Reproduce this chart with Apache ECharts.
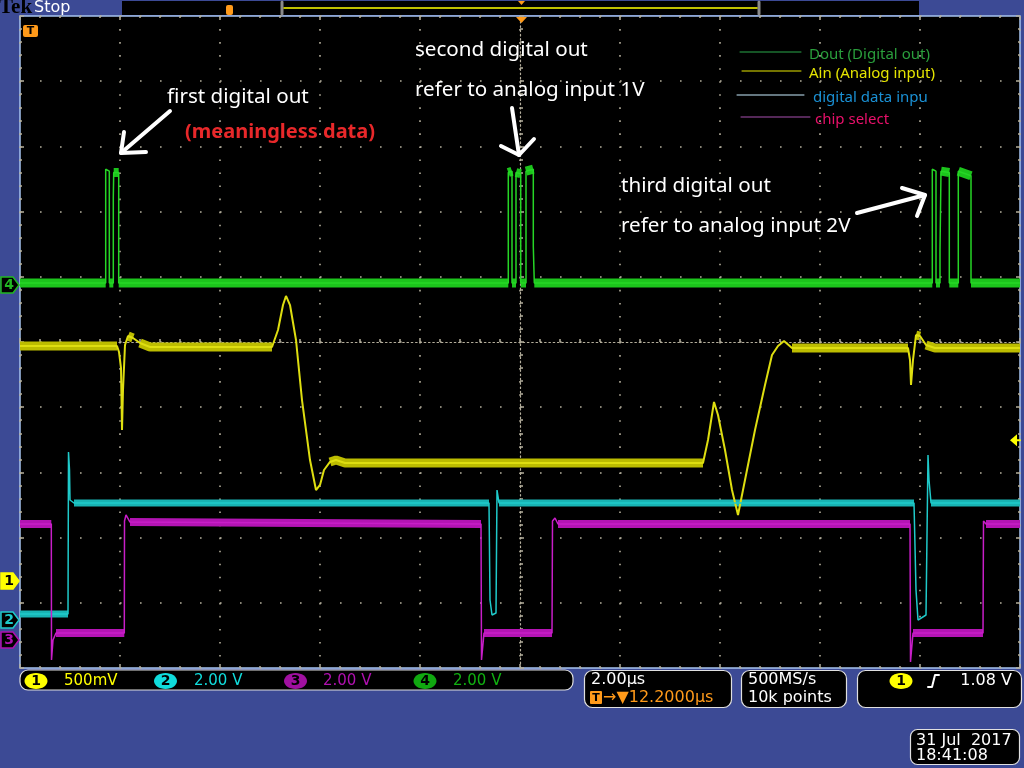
<!DOCTYPE html>
<html><head><meta charset="utf-8">
<script src="https://cdn.jsdelivr.net/npm/echarts@6/dist/echarts.min.js"></script>
<style>html,body{margin:0;padding:0;background:#3c4a95;}#c{width:1024px;height:768px;}</style>
</head><body><div id="c"></div>
<script>
// ---- axes: time in µs relative to screen centre (2.00 µs/div), vertical in screen divisions
const timeTicks = { min: -10, max: 10, interval: 2 };
const divTicks = { min: -5, max: 5, interval: 1 };

// ---- traces [time µs, divisions]
const doutCh4 = [[-10,0.905],[-8.286,0.905],[-8.286,2.65],[-8.214,2.62],[-8.214,0.905],[-8.134,0.905],[-8.134,2.22],[-8.126,2.60],[-8.026,2.60],[-8.026,0.905],
  [-0.234,0.905],[-0.234,2.60],[-0.16,2.62],[-0.16,0.905],[-0.08,0.905],[-0.08,2.60],[0.014,2.58],[0.014,0.905],[0.12,0.905],[0.12,2.62],[0.266,2.65],[0.266,1.47],[0.286,1.47],[0.286,0.905],
  [8.246,0.905],[8.246,2.65],[8.32,2.62],[8.32,0.905],[8.40,0.905],[8.40,1.41],[8.42,1.41],[8.42,2.62],[8.586,2.60],[8.586,0.905],[8.766,0.905],[8.766,2.62],[9.02,2.55],[9.02,0.905],[10,0.905]];
const ainCh1 = [[-10,-0.061],[-8.06,-0.061],[-8.02,-0.153],[-7.98,-0.399],[-7.96,-1.350],[-7.94,-0.736],[-7.90,-0.046],[-7.84,0.092],[-7.74,0.061],[-7.60,-0.015],[-7.40,-0.077],
  [-4.96,-0.077],[-4.84,0.184],[-4.74,0.567],[-4.68,0.706],[-4.60,0.567],[-4.48,0.031],[-4.36,-0.890],[-4.20,-1.810],[-4.08,-2.270],[-4.00,-2.193],[-3.92,-1.963],[-3.80,-1.840],[-3.68,-1.810],[-3.50,-1.856],
  [3.66,-1.856],[3.76,-1.503],[3.88,-0.920],[3.96,-1.120],[4.10,-1.656],[4.24,-2.270],[4.36,-2.653],[4.50,-2.117],[4.70,-1.350],[4.90,-0.660],[5.04,-0.199],[5.16,-0.061],[5.28,0.015],[5.44,-0.092],
  [7.76,-0.092],[7.80,-0.276],[7.82,-0.660],[7.86,-0.276],[7.92,0.107],[8.00,0.092],[8.12,-0.046],[8.30,-0.092],[10,-0.092]];
const dataInCh2 = [[-10,-4.172],[-9.04,-4.172],[-9.03,-1.687],[-9.01,-1.963],[-9.0,-2.423],[-8.96,-2.393],[-8.92,-2.469],
  [-0.62,-2.469],[-0.60,-3.957],[-0.56,-4.187],[-0.48,-4.156],[-0.46,-2.270],[-0.42,-2.469],
  [7.88,-2.469],[7.92,-3.804],[7.96,-4.264],[8.12,-4.187],[8.16,-1.733],[8.18,-2.117],[8.22,-2.469],[10,-2.469]];
const chipSelCh3 = [[-10,-2.791],[-9.374,-2.791],[-9.37,-4.877],[-9.34,-4.571],[-9.28,-4.463],[-7.914,-4.463],[-7.91,-2.745],[-7.88,-2.653],[-7.80,-2.761],
  [-0.78,-2.791],[-0.77,-4.877],[-0.72,-4.463],[0.64,-4.463],[0.65,-2.745],[0.70,-2.699],[0.76,-2.791],
  [7.80,-2.791],[7.81,-4.908],[7.86,-4.463],[9.26,-4.463],[9.27,-2.745],[9.32,-2.791],[10,-2.791]];

// ---- channel ground markers (divisions) and readouts
const chanIds = ['1', '2', '3', '4'];
const chanGround = [-3.666, -4.264, -4.571, 0.874];
const chanScale = ['500mV', '2.00 V', '2.00 V', '2.00 V'];
const chanVoltsPerDiv = [0.5, 2, 2, 2];
const trigLevelV = 1.08;
const timebase = '2.00µs';
const trigDelay = '12.2000µs';
const sampleRate = '500MS/s';
const recordLen = '10k points';
const dateStr = '31 Jul  2017';
const timeStr = '18:41:08';
const legendNames = ['Dout (Digital out)', 'Ain (Analog input)', 'digital data inpu', 'chip select'];

const COL = { ch1: '#dede10', ch2: '#1fcaca', ch3: '#c81ec8', ch4: '#26d626', dot: '#b4ae9c', frame: '#a6c4ef', orange: '#ff9a1a' };

function band(data) {
  const out = []; let last = -1;
  for (let i = 0; i < data.length - 1; i++) {
    const a = data[i], b = data[i + 1];
    const dt = b[0] - a[0], dd = Math.abs(b[1] - a[1]);
    if (dt > 0.04 && dd / dt < 0.35) {
      if (last !== i) { if (out.length) out.push([a[0], '-']); out.push(a); }
      out.push(b); last = i + 1;
    }
  }
  return out;
}
function trace(name, data, color, bandColor, w, bw) {
  return [
    { name: name + ' noise', type: 'line', data: band(data), showSymbol: false, silent: true, animation: false, connectNulls: false,
      lineStyle: { color: bandColor, width: bw, cap: 'butt' }, z: 2 },
    { name: name, type: 'line', data: data, showSymbol: false, silent: true, animation: false,
      lineStyle: { color: color, width: w }, z: 3 }
  ];
}

const axisCommon = { type: 'value', axisLabel: { show: false }, splitLine: { show: false } };
const edgeTick = { show: true, inside: true, length: 4, lineStyle: { color: COL.dot, width: 1.5 } };
const edgeMinor = { show: true, splitNumber: 5, length: 2, lineStyle: { color: COL.dot, width: 1.5 } };
const chart = echarts.init(document.getElementById('c'), null, { width: 1024, height: 768 });

const grid = { left: 20, top: 16, width: 1000, height: 652 };
chart.setOption({
  backgroundColor: '#3c4a95',
  animation: false,
  grid: Object.assign({ show: true, backgroundColor: '#000', borderColor: COL.frame, borderWidth: 1.5 }, grid),
  xAxis: [
    Object.assign({}, axisCommon, timeTicks, {
      axisLine: { show: true, onZero: true, lineStyle: { color: COL.dot, type: [1.5, 2.8], width: 1.2 } },
      axisTick: { show: true, inside: true, length: 4, lineStyle: { color: COL.dot, width: 1.5 } },
      minorTick: { show: true, splitNumber: 5, length: 3, lineStyle: { color: COL.dot, width: 1.5 } },
      splitLine: { show: true, lineStyle: { color: COL.dot, type: [1.6, 11.44], width: 1.6 } }
    }),
    Object.assign({}, axisCommon, timeTicks, { position: 'top', axisLine: { show: false, onZero: false }, axisTick: edgeTick, minorTick: edgeMinor }),
    Object.assign({}, axisCommon, timeTicks, { position: 'bottom', axisLine: { show: false, onZero: false }, axisTick: edgeTick, minorTick: edgeMinor })
  ],
  yAxis: [
    Object.assign({}, axisCommon, divTicks, {
      axisLine: { show: true, onZero: true, lineStyle: { color: COL.dot, type: [1.5, 2.8], width: 1.2 } },
      axisTick: { show: true, inside: true, length: 4, lineStyle: { color: COL.dot, width: 1.5 } },
      minorTick: { show: true, splitNumber: 5, length: 3, lineStyle: { color: COL.dot, width: 1.5 } },
      splitLine: { show: true, lineStyle: { color: COL.dot, type: [1.6, 18.4], width: 1.6 } }
    }),
    Object.assign({}, axisCommon, divTicks, { position: 'left', axisLine: { show: false, onZero: false }, axisTick: edgeTick, minorTick: edgeMinor }),
    Object.assign({}, axisCommon, divTicks, { position: 'right', axisLine: { show: false, onZero: false }, axisTick: edgeTick, minorTick: edgeMinor })
  ],
  series: [].concat(
    trace(legendNames[1], ainCh1, COL.ch1, '#bcbc00', 2, 9),
    trace(legendNames[2], dataInCh2, COL.ch2, '#18b4b4', 1.5, 7),
    trace(legendNames[3], chipSelCh3, COL.ch3, '#b414b4', 1.5, 8),
    trace(legendNames[0], doutCh4, COL.ch4, '#1cc41c', 1.5, 9)
  )
});

// ---- overlay graphics
const yPx = v => chart.convertToPixel({ yAxisIndex: 0 }, v);
const g = [];
const txt = (x, y, s, fill, font, align) => g.push({ type: 'text', x: x, y: y, silent: true, z: 50,
  style: { text: s, fill: fill, font: font, align: align || 'left', verticalAlign: 'middle' } });
const rect = (x, y, w, h, fill, stroke, r) => g.push({ type: 'rect', silent: true, z: 40,
  shape: { x: x, y: y, width: w, height: h, r: r || 0 }, style: { fill: fill, stroke: stroke || null, lineWidth: 1.2 } });
const poly = (pts, fill, stroke, lw) => g.push({ type: 'polygon', silent: true, z: 45, shape: { points: pts }, style: { fill: fill, stroke: stroke || null, lineWidth: lw || 1 } });
const pline = (pts, stroke, lw) => g.push({ type: 'polyline', silent: true, z: 45, shape: { points: pts }, style: { stroke: stroke, lineWidth: lw, fill: null, lineCap: 'round', lineJoin: 'round' } });
const ell = (cx, cy, rx, ry, fill, stroke) => g.push({ type: 'ellipse', silent: true, z: 45, shape: { cx: cx, cy: cy, rx: rx, ry: ry }, style: { fill: fill, stroke: stroke || null, lineWidth: 1 } });

// top bar
txt(-1, 8, 'Tek', '#000', 'bold 21px "Liberation Serif"');
txt(34, 8, 'Stop', '#fff', '16px "DejaVu Sans"');
rect(122, 1, 797, 14, '#000');
rect(226, 5, 7, 10, COL.orange, null, 2);
pline([[282, 2], [282, 14]], '#8a8a8a', 3);
pline([[759, 2], [759, 14]], '#8a8a8a', 3);
pline([[284, 8], [757, 8]], '#ffff00', 1.5);
poly([[518, 1], [525, 1], [521.5, 5]], COL.orange);
poly([[516, 17], [527, 17], [521.5, 23]], COL.orange);
rect(23, 25, 15, 12, COL.orange, null, 2);
txt(30.5, 31.5, 'T', '#000', 'bold 11px "DejaVu Sans"', 'center');

// legend
const legendY = [52, 71, 95, 117];
const legendLine = [[740, 801], [742, 801], [737, 804], [741, 810]];
const legendLineCol = ['#2aa84a', '#e8e800', '#c8ecff', '#a850b0'];
const legendTextX = [809, 809, 813, 815];
const legendTextCol = ['#2a9e3c', '#e4e400', '#1a90d4', '#e8106a'];
for (let i = 0; i < 4; i++) {
  pline([[legendLine[i][0], legendY[i]], [legendLine[i][1], legendY[i]]], legendLineCol[i], 1);
  txt(legendTextX[i], legendY[i] + 3, legendNames[i], legendTextCol[i], '15px "Noto Sans"');
}

// annotations
const annFont = '20.6px "Noto Sans"';
txt(167, 97, 'first digital out', '#fff', annFont);
txt(185, 132, '(meaningless data)', '#e8282a', 'bold 20px "Noto Sans"');
txt(415, 50, 'second digital out', '#fff', annFont);
txt(415, 90, 'refer to analog input 1V', '#fff', annFont);
txt(621, 186, 'third digital out', '#fff', annFont);
txt(621, 226, 'refer to analog input 2V', '#fff', annFont);
pline([[170, 111], [121, 153]], '#fff', 4);
pline([[146, 152], [121, 153], [124, 132]], '#fff', 4);
pline([[512, 108], [519, 155]], '#fff', 4);
pline([[501, 146], [519, 155], [534, 139]], '#fff', 4);
pline([[857, 213], [925, 195]], '#fff', 4);
pline([[902, 188], [925, 195], [917, 216]], '#fff', 4);

// channel ground markers
const markFill = ['#ffff00', '#000', '#000', '#000'];
const markStroke = ['#ffff00', '#1fcaca', '#b010b0', '#22b822'];
const markText = ['#000', '#1fcaca', '#b010b0', '#22b822'];
for (let i = 0; i < 4; i++) {
  const y = yPx(chanGround[i]);
  poly([[1, y - 8], [13, y - 8], [19, y], [13, y + 8], [1, y + 8]], markFill[i], markStroke[i], 1.5);
  txt(9, y + 0.5, chanIds[i], markText[i], 'bold 14px "DejaVu Sans"', 'center');
}
// trigger level arrow (channel 1)
const ty = yPx(chanGround[0] + trigLevelV / chanVoltsPerDiv[0]);
poly([[1010, ty], [1017, ty - 6], [1017, ty + 6]], '#ffff00');
pline([[1016, ty], [1020, ty]], '#ffff00', 2);

// status bar
rect(20, 670, 553, 20, '#000', '#e0e0e0', 8);
const badgeX = [36, 165.5, 295.5, 425];
const badgeFill = ['#ffff00', '#10dcdc', '#a010a0', '#10a810'];
const scaleX = [64, 194, 323, 453];
const scaleCol = ['#ffff00', '#10dcdc', '#b010b0', '#10b010'];
for (let i = 0; i < 4; i++) {
  ell(badgeX[i], 681, 11.5, 8, badgeFill[i]);
  txt(badgeX[i], 681.5, chanIds[i], '#000', 'bold 14px "DejaVu Sans"', 'center');
  txt(scaleX[i], 681, chanScale[i], scaleCol[i], '15px "DejaVu Sans"');
}
rect(584.5, 670.5, 147, 37, '#000', '#e0e0e0', 8);
txt(591, 680, timebase, '#fff', '16px "DejaVu Sans"');
rect(590, 691, 12, 13, COL.orange, null, 1);
txt(596, 698, 'T', '#000', 'bold 11px "DejaVu Sans"', 'center');
txt(603, 697.5, '→▼' + trigDelay, COL.orange, '16px "DejaVu Sans"');
rect(741.5, 670.5, 105, 37, '#000', '#e0e0e0', 8);
txt(748, 680, sampleRate, '#fff', '16px "DejaVu Sans"');
txt(748, 697.5, recordLen, '#fff', '16px "DejaVu Sans"');
rect(857.5, 670.5, 164, 37, '#000', '#e0e0e0', 8);
ell(901, 681, 11.5, 8, '#ffff00');
txt(901, 681.5, chanIds[0], '#000', 'bold 14px "DejaVu Sans"', 'center');
pline([[928, 687], [932, 687], [935, 675], [939, 675]], '#fff', 2);
txt(1012, 681, trigLevelV.toFixed(2) + ' V', '#fff', '16px "DejaVu Sans"', 'right');
rect(910.5, 729.5, 109, 35, '#000', '#e0e0e0', 7);
txt(916, 741, dateStr, '#fff', '16px "DejaVu Sans"');
txt(916, 756, timeStr, '#fff', '16px "DejaVu Sans"');

chart.setOption({ graphic: { elements: g } });
</script></body></html>
